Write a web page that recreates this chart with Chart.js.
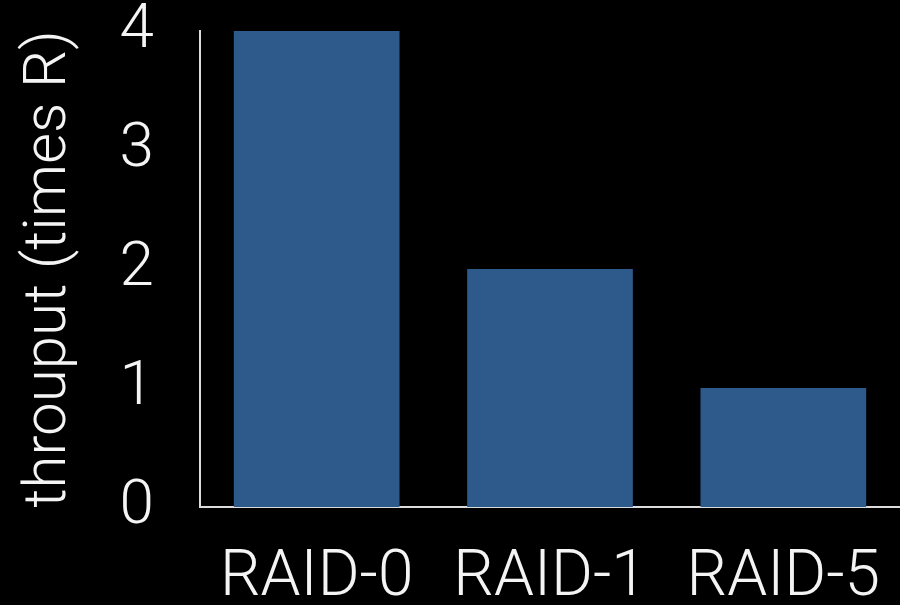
<!DOCTYPE html>
<html>
<head>
<meta charset="utf-8">
<script src="https://cdn.jsdelivr.net/npm/chart.js@4.4.1/dist/chart.umd.min.js"></script>
<style>
  html, body { margin: 0; padding: 0; background: #000; }
  #wrap { width: 900px; height: 605px; }
</style>
</head>
<body>
<div id="wrap"><canvas id="c" width="900" height="605"></canvas></div>
<script>
// RAID level throughput, in multiples of a single disk's rate R
const categories = ['RAID-0', 'RAID-1', 'RAID-5'];
const throughput = [4, 2, 1];
const yTicks = [0, 1, 2, 3, 4];

const FONT = '"Roboto", "Liberation Sans", sans-serif';
const TEXT = '#f4f4f4';
const AXIS = '#dcdcdc';

// keep the plot edges fixed: no extra room reserved for half labels
function noEdgePadding(scale) {
  scale.paddingTop = 0;
  scale.paddingBottom = 0;
  scale.paddingLeft = 0;
  scale.paddingRight = 0;
}

new Chart(document.getElementById('c'), {
  type: 'bar',
  data: {
    labels: categories,
    datasets: [{
      data: throughput,
      backgroundColor: '#2e598b',
      borderWidth: 0,
      barPercentage: 0.71,
      categoryPercentage: 1.0
    }]
  },
  options: {
    responsive: false,
    animation: false,
    layout: { padding: { top: 31, right: 0, left: 0, bottom: 0 } },
    plugins: { legend: { display: false }, tooltip: { enabled: false } },
    scales: {
      x: {
        grid: { display: false, drawTicks: false },
        border: { display: true, color: AXIS, width: 2 },
        ticks: {
          color: TEXT,
          padding: 40,
          maxRotation: 0,
          font: { family: FONT, size: 64, weight: 300, lineHeight: 1 }
        },
        afterFit(scale) { scale.height = 98; noEdgePadding(scale); }
      },
      y: {
        min: 0,
        max: 4,
        afterBuildTicks(scale) { scale.ticks = yTicks.map(v => ({ value: v })); },
        grid: { display: false, drawTicks: false },
        border: { display: true, color: AXIS, width: 2 },
        ticks: {
          color: TEXT,
          padding: 46,
          font: { family: FONT, size: 62, weight: 300, lineHeight: 1 }
        },
        title: {
          display: true,
          text: 'throuput (times R)',
          color: TEXT,
          padding: { top: 20, bottom: 0 },
          font: { family: FONT, size: 60, weight: 300, lineHeight: 1 }
        },
        afterFit(scale) { scale.width = 200; noEdgePadding(scale); }
      }
    }
  }
});
</script>
</body>
</html>
